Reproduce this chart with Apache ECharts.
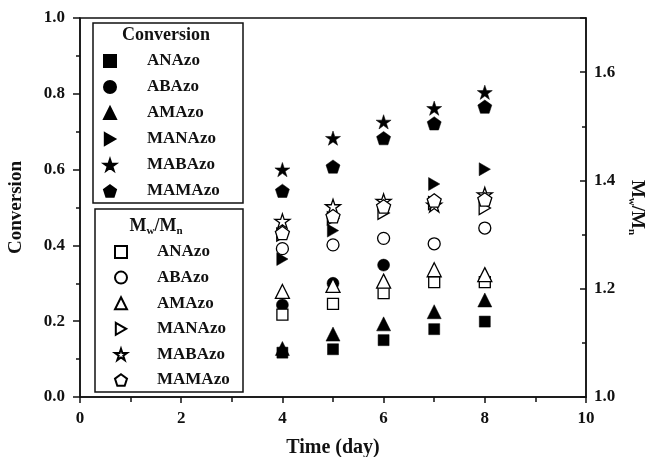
<!DOCTYPE html>
<html><head><meta charset="utf-8">
<script src="https://cdn.jsdelivr.net/npm/echarts@6/dist/echarts.min.js"></script>
<style>html,body{margin:0;padding:0;background:#fff}#c{width:649px;height:457px}</style>
</head><body><div id="c"></div>
<script>
// ---- data ----
const days = [4, 5, 6, 7, 8];
const samples = ['ANAzo', 'ABAzo', 'AMAzo', 'MANAzo', 'MABAzo', 'MAMAzo'];
// Conversion (left axis); null = not visible in figure
const convANAzo  = [0.117, 0.126, 0.150, 0.179, 0.199];
const convABAzo  = [0.243, 0.300, 0.348, null, null];
const convAMAzo  = [0.128, 0.166, 0.193, 0.225, 0.256];
const convMANAzo = [0.364, 0.439, null, 0.562, 0.601];
const convMABAzo = [0.600, 0.683, 0.726, 0.762, 0.804];
const convMAMAzo = [0.544, 0.608, 0.683, 0.722, 0.766];
// Mw/Mn (right axis)
const pdiANAzo  = [1.152, 1.172, 1.192, 1.212, 1.212];
const pdiABAzo  = [1.274, 1.281, 1.293, 1.283, 1.312];
const pdiAMAzo  = [1.195, 1.206, 1.214, 1.235, 1.226];
const pdiMANAzo = [1.300, 1.330, 1.340, 1.358, 1.349];
const pdiMABAzo = [1.325, 1.352, 1.362, 1.355, 1.374];
const pdiMAMAzo = [1.303, 1.334, 1.352, 1.363, 1.365];
const xTickLabels = ['0', '2', '4', '6', '8', '10'];
const leftTickLabels = ['0.0', '0.2', '0.4', '0.6', '0.8', '1.0'];
const rightTickLabels = ['1.0', '1.2', '1.4', '1.6'];

// ---- styling ----
const FONT = 'Liberation Serif';
const STAR = 'path://M0,-1 L0.2245,-0.309 L0.951,-0.309 L0.363,0.118 L0.588,0.809 L0,0.382 L-0.588,0.809 L-0.363,0.118 L-0.951,-0.309 L-0.2245,-0.309 Z';
const PENT = 'path://M0,-1 L0.951,-0.309 L0.588,0.809 L-0.588,0.809 L-0.951,-0.309 Z';
const RTRI = 'path://M0,0 L0.866,0.5 L0,1 Z';
const symbols = ['rect', 'circle', 'triangle', RTRI, STAR, PENT];
const sizes = [11, 12, 14, 13, 15, 14];
const convAll = [convANAzo, convABAzo, convAMAzo, convMANAzo, convMABAzo, convMAMAzo];
const pdiAll = [pdiANAzo, pdiABAzo, pdiAMAzo, pdiMANAzo, pdiMABAzo, pdiMAMAzo];

function pts(vals) {
  const out = [];
  vals.forEach((v, i) => { if (v !== null) out.push([days[i], v]); });
  return out;
}
const series = [];
samples.forEach((s, i) => {
  series.push({
    name: s, type: 'scatter', xAxisIndex: 0, yAxisIndex: 0,
    symbol: symbols[i], symbolSize: sizes[i], symbolKeepAspect: true,
    itemStyle: { color: '#000', borderColor: '#000', borderWidth: 0.5, opacity: 1 },
    data: pts(convAll[i]), z: 2
  });
});
samples.forEach((s, i) => {
  series.push({
    name: s + ' ', type: 'scatter', xAxisIndex: 0, yAxisIndex: 1,
    symbol: symbols[i], symbolSize: sizes[i], symbolKeepAspect: true,
    itemStyle: { color: '#fff', borderColor: '#000', borderWidth: 1.3, opacity: 1 },
    data: pts(pdiAll[i]), z: 3
  });
});

const labelStyle = { fontFamily: FONT, fontWeight: 'bold', fontSize: 17, color: '#111' };
const lineStyle = { color: '#111', width: 1.5 };

const chart = echarts.init(document.getElementById('c'), null, { renderer: 'canvas' });
chart.setOption({
  animation: false,
  backgroundColor: '#fff',
  grid: { left: 80, right: 63, top: 18, bottom: 60, outerBoundsMode: 'none', containLabel: false,
    show: true, borderColor: '#111', borderWidth: 1.5, backgroundColor: 'transparent' },
  xAxis: {
    type: 'value', min: 0, max: 10, interval: 2,
    axisLine: { show: true, lineStyle: lineStyle },
    axisTick: { show: true, inside: false, length: 6, lineStyle: lineStyle },
    minorTick: { show: true, splitNumber: 2, length: 5, lineStyle: { color: '#111', width: 1.5 } },
    splitLine: { show: false },
    axisLabel: Object.assign({ margin: 13, formatter: (v) => xTickLabels[Math.round(v / 2)] }, labelStyle),
    name: 'Time (day)', nameLocation: 'middle', nameGap: 41,
    nameTextStyle: { fontFamily: FONT, fontWeight: 'bold', fontSize: 20, color: '#111' }
  },
  yAxis: [{
    type: 'value', min: 0, max: 1, interval: 0.2, position: 'left',
    axisLine: { show: true, lineStyle: lineStyle },
    axisTick: { show: true, inside: false, length: 7, lineStyle: lineStyle },
    minorTick: { show: true, splitNumber: 2, length: 4, lineStyle: { color: '#111', width: 1.5 } },
    splitLine: { show: false },
    axisLabel: Object.assign({ margin: 15, formatter: (v) => leftTickLabels[Math.round(v * 5)] }, labelStyle),
    name: 'Conversion', nameLocation: 'middle', nameGap: 54,
    nameTextStyle: { fontFamily: FONT, fontWeight: 'bold', fontSize: 19, color: '#111' }
  }, {
    type: 'value', min: 1.0, max: 1.7, interval: 0.2, position: 'right',
    axisLine: { show: true, lineStyle: lineStyle },
    axisTick: { show: true, inside: true, length: 6, lineStyle: lineStyle },
    minorTick: { show: true, splitNumber: 2, length: 4, lineStyle: { color: '#111', width: 1.5 } },
    splitLine: { show: false },
    axisLabel: Object.assign({ margin: 8, showMaxLabel: false,
      formatter: (v) => { const k = Math.round((v - 1) * 5); return (Math.abs((v - 1) * 5 - k) < 1e-6 && rightTickLabels[k]) ? rightTickLabels[k] : ''; } }, labelStyle),
    name: '{m|M}{s|w}{m|/M}{s|n}', nameLocation: 'middle', nameGap: 30, nameRotate: -90,
    nameTextStyle: {
      color: '#111',
      rich: {
        m: { fontFamily: FONT, fontWeight: 'bold', fontSize: 19, color: '#111' },
        s: { fontFamily: FONT, fontWeight: 'bold', fontSize: 11, color: '#111', padding: [10, 0, 0, 0] }
      }
    }
  }],
  legend: [{
    data: samples, orient: 'vertical', left: 103, top: 52.5, padding: 0,
    itemWidth: 12, itemHeight: 12, itemGap: 9, selectedMode: false,
    textStyle: Object.assign({ padding: [0, 0, 0, 26] }, labelStyle)
  }, {
    data: samples.map(s => s + ' '), orient: 'vertical', left: 114, top: 243.5, padding: 0,
    itemWidth: 12, itemHeight: 12, itemGap: 8.6, selectedMode: false,
    formatter: (n) => n.trim(),
    textStyle: Object.assign({ padding: [0, 0, 0, 25] }, labelStyle)
  }],
  graphic: [
    { type: 'rect', shape: { x: 93, y: 23, width: 150, height: 180 }, style: { fill: 'none', stroke: '#111', lineWidth: 1.5 }, silent: true },
    { type: 'rect', shape: { x: 95, y: 209, width: 148, height: 183 }, style: { fill: 'none', stroke: '#111', lineWidth: 1.5 }, silent: true },
    { type: 'text', x: 166, y: 35, silent: true,
      style: { text: 'Conversion', fontFamily: FONT, fontWeight: 'bold', fontSize: 18, fill: '#111', align: 'center', verticalAlign: 'middle' } },
    { type: 'text', x: 156, y: 226, silent: true,
      style: { text: '{m|M}{s|w}{m|/M}{s|n}', align: 'center', verticalAlign: 'middle',
        rich: {
          m: { fontFamily: FONT, fontWeight: 'bold', fontSize: 18, fill: '#111' },
          s: { fontFamily: FONT, fontWeight: 'bold', fontSize: 11, fill: '#111', padding: [10, 0, 0, 0] }
        } } }
  ],
  series: series
});
</script>
</body></html>
